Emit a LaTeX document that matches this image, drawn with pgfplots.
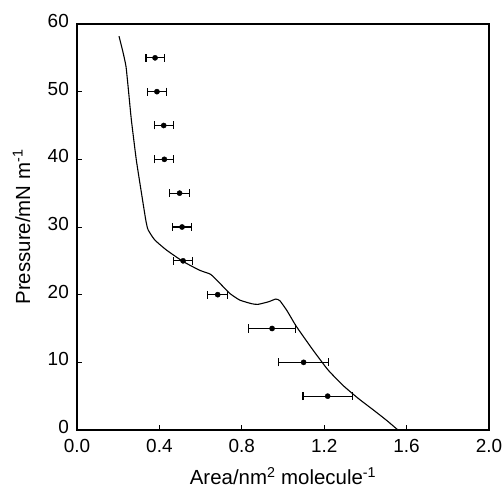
\documentclass[border=0pt]{standalone}
\usepackage{pgfplots}
\pgfplotsset{compat=1.18}
\usepackage{fontspec}
\setmainfont{Liberation Sans}
\begin{document}
\begin{tikzpicture}
\begin{axis}[
  scale only axis, width=412bp, height=406bp,
  xmin=0, xmax=2.0, ymin=0, ymax=60,
  xtick={0,0.4,...,2.0}, ytick={0,10,...,60},
  xticklabel style={/pgf/number format/fixed,/pgf/number format/precision=1,/pgf/number format/fixed zerofill},
  /pgf/number format/assume math mode=true,
  tick align=inside, xtick pos=bottom, ytick pos=left,
  major tick length=5bp,
  axis line style={line width=1.2pt},
  tick style={line width=1pt, black},
  tick label style={font=\fontsize{19}{22}\selectfont, inner sep=1bp},
  yticklabel style={yshift=3bp, xshift=-7bp},
  xticklabel style={yshift=-8bp},
  label style={font=\fontsize{20.5}{24}\selectfont},
  xlabel={Area/nm\textsuperscript{2} molecule\textsuperscript{-1}},
  ylabel={Pressure/mN m\textsuperscript{-1}},
  xlabel style={yshift=-10bp},
  ylabel style={yshift=13bp},
]
\addplot[black, line width=1.1pt, smooth, tension=0.3] coordinates {
(0.204,58.2)(0.222,56.0)(0.238,53.7)(0.252,49.5)(0.264,45.8)(0.288,39.9)(0.313,35.0)(0.334,31.0)(0.345,29.6)
(0.377,28.1)(0.434,26.6)(0.515,24.9)(0.596,23.6)(0.649,23.0)(0.693,21.7)(0.741,20.2)(0.790,19.2)
(0.850,18.65)(0.879,18.57)(0.93,18.95)(0.965,19.35)(0.985,19.1)
(1.02,17.6)(1.065,15.3)(1.146,11.8)(1.218,8.9)(1.291,6.6)(1.364,4.7)(1.437,3.0)(1.500,1.5)(1.558,0)
};
\addplot[black, only marks, mark=*, mark size=2.6bp,
  error bars/.cd, x dir=both, x explicit,
  error mark=|, error bar style={line width=1.1pt},
  error mark options={line width=1.1pt, mark size=4bp}]
  coordinates {
(0.379,55) +- (0.044,0)
(0.388,50) +- (0.046,0)
(0.421,45) +- (0.046,0)
(0.424,40) +- (0.046,0)
(0.498,35) +- (0.048,0)
(0.510,30) +- (0.048,0)
(0.515,25) +- (0.047,0)
(0.683,20) +- (0.048,0)
(0.947,15) +- (0.113,0)
(1.100,10) +- (0.120,0)
(1.217,5) +- (0.120,0)
};
\end{axis}
\pgfresetboundingbox
\path (-77bp,-58bp) rectangle (427bp,430bp);
\end{tikzpicture}
\end{document}
